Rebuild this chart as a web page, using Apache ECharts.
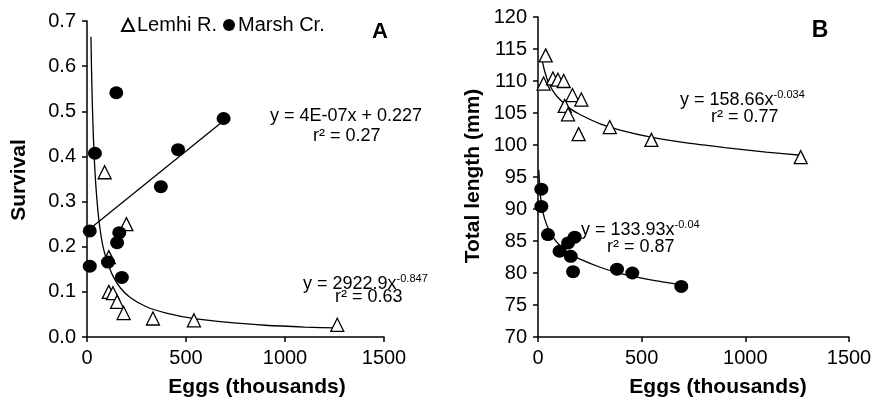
<!DOCTYPE html>
<html><head><meta charset="utf-8">
<script src="https://cdn.jsdelivr.net/npm/echarts@6/dist/echarts.min.js"></script>
<style>html,body{margin:0;padding:0;background:#fff}#c{width:875px;height:403px}</style>
</head><body><div id="c"></div>
<script>
// ---- Data ----
const xTicks = [0, 500, 1000, 1500];
const yTicksA = [0, 0.1, 0.2, 0.3, 0.4, 0.5, 0.6, 0.7];
const yTicksB = [70, 75, 80, 85, 90, 95, 100, 105, 110, 115, 120];

// Panel A: survival vs eggs (thousands)
const lemhiAx = [89, 199, 110, 110, 131, 152, 185, 333, 540, 1264];
const lemhiAy = [0.365, 0.250, 0.177, 0.100, 0.097, 0.078, 0.053, 0.041, 0.037, 0.027];
const marshAx = [14, 14, 40, 148, 690, 460, 373, 163, 152, 106, 176];
const marshAy = [0.157, 0.235, 0.407, 0.541, 0.484, 0.415, 0.333, 0.231, 0.209, 0.166, 0.132];
// Trend lines
const marshAfitX = [13, 690];
const marshAfitY = [0.239, 0.479];
const lemhiAfitX = [20, 23, 27, 32, 38, 45, 55, 65, 80, 100, 130, 170, 220, 300, 400, 550, 700, 900, 1100, 1270];
const lemhiAfitY = [0.665, 0.59, 0.515, 0.445, 0.385, 0.333, 0.28, 0.242, 0.202, 0.17, 0.136, 0.108, 0.087, 0.067, 0.053, 0.040, 0.033, 0.026, 0.022, 0.020];

// Panel B: total length vs eggs (thousands)
const lemhiBx = [37, 27, 72, 96, 124, 166, 209, 129, 145, 196, 346, 547, 1267];
const lemhiBy = [114.0, 109.6, 110.4, 110.2, 110.0, 107.8, 107.1, 106.1, 104.8, 101.7, 102.8, 100.8, 98.1];
const marshBx = [16, 16, 48, 104, 145, 177, 158, 169, 381, 455, 691];
const marshBy = [93.1, 90.4, 86.0, 83.4, 84.7, 85.6, 82.6, 80.2, 80.6, 80.0, 77.9];
const lemhiBfitX = [20, 30, 50, 75, 100, 150, 200, 300, 400, 550, 700, 900, 1100, 1270];
const lemhiBfitY = [113.3, 111.8, 109.8, 108.3, 107.3, 105.8, 104.8, 103.3, 102.3, 101.2, 100.4, 99.6, 98.9, 98.4];
const marshBfitX = [4, 7, 10, 15, 20, 30, 50, 75, 100, 150, 200, 300, 400, 550, 690];
const marshBfitY = [96.1, 94.2, 92.7, 91.2, 90.1, 88.7, 86.9, 85.5, 84.5, 83.1, 82.2, 80.9, 79.9, 78.9, 78.2];

const zip = (xs, ys) => xs.map((x, i) => [x, ys[i]]);

const FONT = 'Liberation Sans, Arial, sans-serif';
const INK = '#000';

function xAxis(gi) {
  return {
    type: 'value', gridIndex: gi, min: 0, max: 1500, interval: 500,
    axisLine: { show: true, onZero: false, lineStyle: { color: INK, width: 1.5 } },
    axisTick: { show: true, length: 5, lineStyle: { color: INK, width: 1.5 } },
    axisLabel: { color: INK, fontSize: 20, fontFamily: FONT, margin: 11, formatter: v => String(v) },
    splitLine: { show: false }
  };
}
function yAxis(gi, min, max, interval, dec) {
  return {
    type: 'value', gridIndex: gi, min: min, max: max, interval: interval,
    axisLine: { show: true, onZero: false, lineStyle: { color: INK, width: 1.5 } },
    axisTick: { show: true, length: 5, lineStyle: { color: INK, width: 1.5 } },
    axisLabel: { color: INK, fontSize: 20, fontFamily: FONT, margin: 11,
      formatter: v => v.toFixed(dec) },
    splitLine: { show: false }
  };
}

const triStyle = { color: '#fff', borderColor: INK, borderWidth: 1.3, opacity: 1 };
const dotStyle = { color: INK, borderColor: INK, borderWidth: 0, opacity: 1 };
const fitLine = (name, xi, yi, data) => ({
  name: name, type: 'line', xAxisIndex: xi, yAxisIndex: yi, data: data,
  showSymbol: false, smooth: 0.2, silent: true,
  lineStyle: { color: INK, width: 1.3 }, z: 2
});
const scat = (name, xi, yi, data, sym) => ({
  name: name, type: 'scatter', xAxisIndex: xi, yAxisIndex: yi, data: data,
  symbol: sym === 'tri' ? 'triangle' : 'circle',
  symbolSize: sym === 'tri' ? 13 : [14, 13],
  itemStyle: sym === 'tri' ? triStyle : dotStyle,
  z: sym === 'tri' ? 3 : 4
});

function eq(x, y, parts) {
  return {
    type: 'text', left: x, top: y, z: 10,
    style: {
      text: parts, fill: INK, font: '18px ' + FONT,
      rich: {
        b: { fontSize: 18, fontFamily: FONT, fill: INK, lineHeight: 20, verticalAlign: 'bottom' },
        s: { fontSize: 11, fontFamily: FONT, fill: INK, lineHeight: 20, verticalAlign: 'top' }
      }
    }
  };
}
function plain(x, y, txt, size, bold, rot) {
  return {
    type: 'text', x: x, y: y, rotation: rot || 0, z: 10,
    style: { text: txt, fill: INK, font: (bold ? 'bold ' : '') + size + 'px ' + FONT,
      align: 'center', verticalAlign: 'middle' }
  };
}

const option = {
  animation: false,
  backgroundColor: '#fff',
  grid: [
    { left: 87, top: 21, width: 297, height: 316 },
    { left: 538, top: 17, width: 311, height: 320 }
  ],
  xAxis: [xAxis(0), xAxis(1)],
  yAxis: [yAxis(0, 0, 0.7, 0.1, 1), yAxis(1, 70, 120, 5, 0)],
  legend: {
    data: ['Lemhi R.', 'Marsh Cr.'], left: 116, top: 10,
    itemWidth: 12, itemHeight: 12, itemGap: 6,
    textStyle: { color: INK, fontSize: 20, fontFamily: FONT, padding: [0, 0, 0, -2] },
    selectedMode: false
  },
  series: [
    fitLine('fitA1', 0, 0, zip(lemhiAfitX, lemhiAfitY)),
    fitLine('fitA2', 0, 0, zip(marshAfitX, marshAfitY)),
    scat('Lemhi R.', 0, 0, zip(lemhiAx, lemhiAy), 'tri'),
    scat('Marsh Cr.', 0, 0, zip(marshAx, marshAy), 'dot'),
    fitLine('fitB1', 1, 1, zip(lemhiBfitX, lemhiBfitY)),
    fitLine('fitB2', 1, 1, zip(marshBfitX, marshBfitY)),
    scat('Lemhi R.', 1, 1, zip(lemhiBx, lemhiBy), 'tri'),
    scat('Marsh Cr.', 1, 1, zip(marshBx, marshBy), 'dot')
  ],
  graphic: [
    plain(380, 32, 'A', 22, true),
    plain(820, 31, 'B', 23, true),
    plain(19, 180, 'Survival', 21, true, Math.PI / 2),
    plain(473, 176, 'Total length (mm)', 21, true, Math.PI / 2),
    plain(257, 387, 'Eggs (thousands)', 21, true),
    plain(718, 387, 'Eggs (thousands)', 21, true),
    eq(270, 107, '{b|y = 4E-07x + 0.227}'),
    eq(313, 127, '{b|r² = 0.27}'),
    eq(303, 273, '{b|y = 2922.9x}{s|-0.847}'),
    eq(335, 288, '{b|r² = 0.63}'),
    eq(680, 89, '{b|y = 158.66x}{s|-0.034}'),
    eq(711, 108, '{b|r² = 0.77}'),
    eq(581, 219, '{b|y = 133.93x}{s|-0.04}'),
    eq(607, 238, '{b|r² = 0.87}')
  ]
};
const chart = echarts.init(document.getElementById('c'), null, { renderer: 'canvas' });
chart.setOption(option);
</script></body></html>
